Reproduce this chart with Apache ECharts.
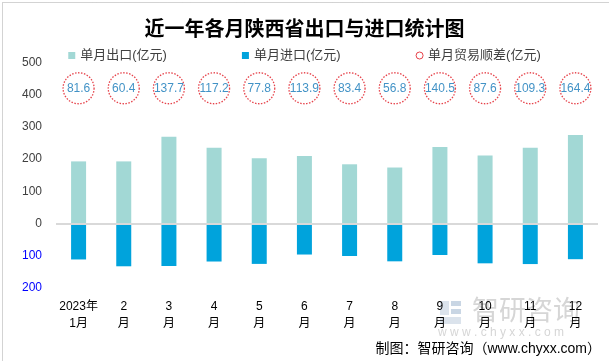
<!DOCTYPE html>
<html>
<head>
<meta charset="utf-8">
<script src="https://cdn.jsdelivr.net/npm/echarts@6/dist/echarts.min.js"></script>
<style>html,body{margin:0;padding:0;background:#fff}#c{width:609px;height:361px}</style>
</head>
<body>
<div id="c"></div>
<script>
const categories = ['2023年\n1月','2\n月','3\n月','4\n月','5\n月','6\n月','7\n月','8\n月','9\n月','10\n月','11\n月','12\n月'];
const exportValues = [193, 193, 269.5, 235, 203, 210, 184, 174, 238, 211, 235, 275];
const importValues = [111.4, 132.6, 131.8, 117.8, 125.2, 96.1, 100.6, 117.2, 97.5, 123.4, 125.7, 110.6];
const surplusValues = [81.6, 60.4, 137.7, 117.2, 77.8, 113.9, 83.4, 56.8, 140.5, 87.6, 109.3, 164.4];
const yTicks = [-200, -100, 0, 100, 200, 300, 400, 500];

const FONT = 'Liberation Sans, "Noto Sans CJK SC", sans-serif';
const chart = echarts.init(document.getElementById('c'), null, {renderer: 'canvas'});
const bubbleLevel = 420;

chart.setOption({
  animation: false,
  backgroundColor: '#fff',
  textStyle: {fontFamily: FONT},
  title: {
    text: '近一年各月陕西省出口与进口统计图',
    left: 'center', top: 13,
    textStyle: {fontSize: 20, fontWeight: 'bold', color: '#000', fontFamily: '"Noto Sans CJK SC", sans-serif'}
  },
  legend: {
    top: 44, left: 'center',
    itemWidth: 7, itemHeight: 7, itemGap: 75,
    textStyle: {fontSize: 13, color: '#404040', fontFamily: FONT},
    data: [
      {name: '单月出口(亿元)', icon: 'rect'},
      {name: '单月进口(亿元)', icon: 'rect'},
      {name: '单月贸易顺差(亿元)', icon: 'circle', itemStyle: {borderWidth: 1}}
    ]
  },
  grid: {left: 56, right: 11, top: 62.5, bottom: 73},
  xAxis: {
    type: 'category',
    data: categories,
    axisLine: {show: false, onZero: false},
    axisTick: {show: false},
    axisLabel: {interval: 0, fontSize: 12, lineHeight: 17, color: '#000', margin: 10, fontFamily: FONT}
  },
  yAxis: {
    type: 'value',
    min: yTicks[0], max: yTicks[yTicks.length - 1], interval: 100,
    splitLine: {show: false},
    axisLine: {show: false},
    axisTick: {show: false},
    axisLabel: {
      fontSize: 12, margin: 14, fontFamily: FONT,
      formatter: v => String(Math.abs(v)),
      color: v => (Number(v) < 0 ? '#0000ff' : '#404040')
    }
  },
  series: [
    {
      name: '单月出口(亿元)', type: 'bar', stack: 'trade', barWidth: 15,
      data: exportValues,
      itemStyle: {color: '#a2d8d5'},
      markLine: {
        silent: true, symbol: 'none', label: {show: false},
        lineStyle: {color: '#d9d9d9', width: 2, type: 'solid'},
        data: [{yAxis: 0}]
      },
      z: 3
    },
    {
      name: '单月进口(亿元)', type: 'bar', stack: 'trade', barWidth: 15,
      data: importValues.map(v => -v),
      itemStyle: {color: '#00a3dc'},
      z: 3
    },
    {
      name: '单月贸易顺差(亿元)', type: 'scatter', symbol: 'circle', symbolSize: 31,
      data: surplusValues.map((s, i) => [i, bubbleLevel, s]),
      itemStyle: {color: '#fff', borderColor: '#e0141e', borderWidth: 1.3, borderType: [1.5, 1.5]},
      label: {
        show: true, position: 'inside', fontSize: 12, color: '#1277b8', fontFamily: FONT,
        formatter: p => String(p.value[2])
      },
      z: 4
    }
  ],
  graphic: [
    {type: 'rect', left: 0, top: 0, z: 100, silent: true,
      shape: {x: 0.5, y: 0.5, width: 607, height: 359},
      style: {fill: 'none', stroke: '#a6a6a6', lineWidth: 1, lineDash: [1, 1]}},
    {type: 'rect', z: 0, silent: true, shape: {x: 440, y: 301, width: 9, height: 14}, style: {fill: '#dbe3ec'}},
    {type: 'rect', z: 0, silent: true, shape: {x: 451, y: 301, width: 10, height: 5}, style: {fill: '#c9d6e4'}},
    {type: 'rect', z: 0, silent: true, shape: {x: 451, y: 309, width: 10, height: 5}, style: {fill: '#c9d6e4'}},
    {type: 'rect', z: 0, silent: true, shape: {x: 440, y: 317, width: 21, height: 7}, style: {fill: '#dbe3ec'}},
    {type: 'text', z: 0, silent: true, left: 472, top: 296,
      style: {text: '智研咨询', font: '27px "Noto Sans CJK SC", sans-serif', fill: '#d6d6d6'}},
    {type: 'text', z: 0, silent: true, left: 438, top: 327,
      style: {text: 'w w w . c h y x x . c o m', font: '12px Liberation Sans, sans-serif', fill: '#d6d6d6'}},
    {type: 'text', z: 10, silent: true, right: 8, top: 342,
      style: {text: '制图：智研咨询（www.chyxx.com）', font: '14px Liberation Sans, "Noto Sans CJK SC", sans-serif', fill: '#000'}}
  ]
});
</script>
</body>
</html>
